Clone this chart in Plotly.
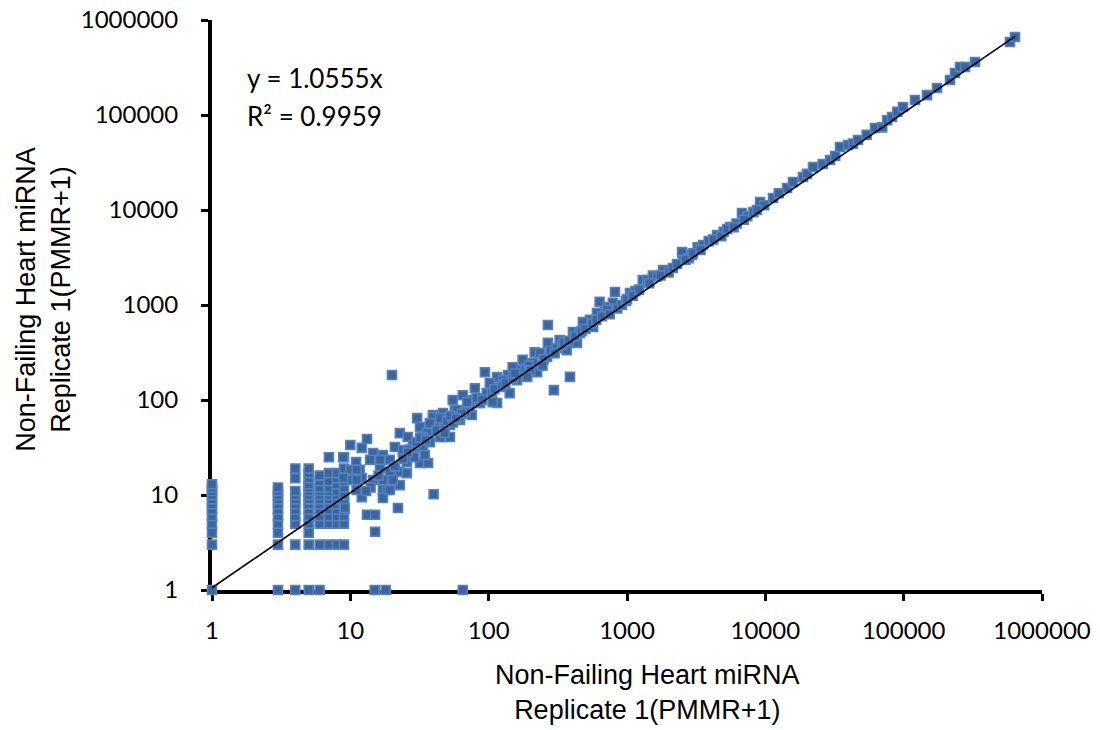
import plotly.graph_objects as go

# Low-count columns: replicate-A value (x) with the replicate-B values (y) stacked above it
column_x = [1, 3, 4, 5, 6, 7, 8, 9]
column_y = [
    [1, 3, 4, 5, 6, 7, 8, 9, 10, 11, 12, 13],
    [1, 3, 4, 5, 6, 7, 8, 9, 10, 11, 12],
    [1, 3, 5, 6, 7, 8, 9, 10, 11, 15, 19],
    [1, 3, 4, 5, 6, 7, 8, 9, 10, 11, 12, 13, 15, 17, 19],
    [1, 3, 5, 6, 7, 8, 9, 10, 11, 12, 14, 16],
    [3, 5, 6, 7, 8, 9, 10, 11, 12, 14, 17, 25],
    [3, 5, 6, 7, 8, 9, 10, 11, 13, 15, 17],
    [3, 5, 6, 7, 8, 9, 10, 12, 14, 16, 19, 25],
]

# miRNAs detected only in the x replicate (y = 1)
floor_x = [15, 18, 65]
floor_y = [1, 1, 1]

# 10 - 100 range
cloud_x = [10, 12.1, 13.2, 8.9, 11, 10, 11.7, 8.9, 10.3, 12.1, 14.6, 9.1, 13.2, 15.1, 15.1,
           22.1, 40, 30.4, 39.6, 46.8, 57, 71, 86.5, 44.6, 52.5, 37.6, 33, 46.8, 52.5, 62,
           75.5, 22.8, 26, 21, 24, 28.4, 33.5, 37.6, 31.9, 36.5, 34.5, 17.2, 19.3, 14.6, 16.4,
           19.3, 22.8, 25.6, 22.8, 17.2, 18.4, 17.2, 12.1, 13.9, 16.4, 17.2, 20.3, 19.3, 28.4,
           25.6, 20, 31.9, 39.6, 35.8, 44.6, 46.8, 55, 65, 59, 73, 79.5, 94, 86.5, 62, 44.6,
           37.6, 33.5, 77, 97, 27, 30, 29, 32, 26, 21, 24, 35, 42, 48, 50, 55, 68, 82, 90, 64,
           70, 53, 58, 48, 11.1, 11.1, 11.1, 14, 16, 13]
cloud_y = [33.6, 31.3, 38.9, 25, 22.2, 18.4, 18.4, 15.1, 14.4, 15.1, 14.4, 7.3, 6.2, 6.2, 4.1,
           7.3, 10.2, 64.5, 69.5, 73, 78.5, 88.6, 93, 54.5, 54.5, 50.6, 50.6, 40.8, 40.8, 61.7,
           69.5, 44.8, 40.8, 32, 29.7, 33.6, 32, 36, 21.7, 21.7, 26.3, 26.3, 23.4, 27.6, 19.2,
           17.5, 17.5, 17, 12.7, 11.3, 11.3, 9.3, 9.5, 23.4, 23.4, 14.4, 14.4, 11.3, 27.6,
           22.2, 183, 52, 66, 45, 40.8, 57, 100, 112, 78.5, 84, 133, 196, 93, 66, 64.5,
           57, 40.8, 100, 118, 30, 36, 25, 40, 28, 20, 24, 38, 48, 50, 60, 58, 75, 105, 100, 72,
           95, 68, 64, 45, 18.4, 14.4, 11.3, 12, 16, 11]

# 100 - 1000 range
mid_x = [115, 115, 138, 142, 120, 102, 176, 168, 215, 224, 209, 268, 268, 296, 326, 387, 367,
         407, 513, 569, 634, 790, 697, 819, 291, 264, 235, 149, 160, 127, 107, 455, 435, 540,
         480, 634, 717, 607, 105, 110, 125, 132, 150, 155, 185, 195, 200, 250, 280, 310, 340,
         350, 380, 420, 470, 500, 560, 600, 660, 750, 850, 920, 980, 190, 245, 300]
mid_y = [174, 93, 183, 118, 137, 151, 265, 207, 317, 196, 245, 399, 615, 127, 427, 175, 335,
         520, 646, 587, 824, 1055, 954, 1370, 312, 284, 312, 221, 162, 162, 95, 508, 399, 698,
         660, 1080, 890, 824, 120, 130, 140, 150, 170, 190, 210, 230, 205, 270, 330, 350, 380,
         405, 420, 470, 530, 560, 640, 700, 760, 800, 920, 1000, 1100, 175, 230, 310]

# 1000 - 10000 range
upper_x = [1051, 1150, 1300, 1396, 1540, 1650, 1822, 2000, 2150, 2500, 2541, 2800, 2940, 3240,
           3545, 3900, 4480, 5000, 5560, 6200, 6780, 7400, 8200, 9160, 9800, 1000, 1100, 1220,
           1450, 1750, 2300, 2650, 3000, 3400, 4200, 4800, 5300, 5900, 7000, 8700]
upper_y = [1337, 1400, 1830, 1834, 2040, 2000, 2335, 2200, 2450, 3600, 2978, 3100, 3370, 4040,
           4283, 4700, 5456, 5900, 6620, 7200, 9300, 8600, 9500, 12140, 11200, 1150, 1250, 1450,
           1700, 2050, 2700, 3000, 3500, 3800, 4900, 5300, 6300, 6600, 7900, 10000]

# 10000 and above
high_x = [11370, 12500, 14360, 15850, 18710, 20000, 22110, 26000, 29370, 32000, 34670, 39620,
          43000, 46760, 54000, 62090, 70000, 76000, 82380, 90000, 98850, 120700, 147500,
          174200, 216300, 235000, 255500, 277700, 327900, 587000, 638000]
high_y = [13370, 15000, 17050, 19720, 22230, 24000, 28370, 30500, 33590, 37000, 46010, 48310,
          50000, 54560, 62000, 72950, 74000, 88000, 95260, 108000, 121400, 143800, 162000,
          192300, 233600, 276800, 320000, 320000, 361300, 586700, 662500]

slope = 1.0555
r_squared = 0.9959

tick_vals = [1, 10, 100, 1000, 10000, 100000, 1000000]
tick_text = ["1", "10", "100", "1000", "10000", "100000", "1000000"]

# assemble all points
xs, ys = [], []
for cx, cys in zip(column_x, column_y):
    xs += [cx] * len(cys)
    ys += cys
for px_, py_ in [(floor_x, floor_y), (cloud_x, cloud_y), (mid_x, mid_y),
                 (upper_x, upper_y), (high_x, high_y)]:
    xs += px_
    ys += py_

x_min, x_max = min(xs), max(xs)

fig = go.Figure()
fig.add_trace(go.Scatter(
    x=xs, y=ys, mode="markers", cliponaxis=False, showlegend=False,
    marker=dict(symbol="square", size=9, color="#3d649c",
                line=dict(color="#5283c0", width=1.6)),
))
fig.add_trace(go.Scatter(
    x=[x_min, x_max], y=[slope * x_min, slope * x_max], mode="lines",
    cliponaxis=False, showlegend=False,
    line=dict(color="black", width=1.6),
))

tick_font = dict(family="Lato", size=24, color="black")
axis_common = dict(
    type="log", range=[0, 6], tickvals=tick_vals, ticktext=tick_text,
    showline=True, linewidth=4, linecolor="black", showgrid=False, zeroline=False,
    ticks="outside", ticklen=7, tickwidth=3, tickcolor="black",
    tickfont=tick_font, layer="below traces", automargin=False,
)

fig.update_layout(
    width=1100, height=730,
    margin=dict(l=212, r=58, t=20, b=140),
    paper_bgcolor="white", plot_bgcolor="white",
    xaxis=dict(**axis_common, ticklabelstandoff=9),
    yaxis=dict(**axis_common, ticklabelstandoff=18),
    annotations=[
        dict(text=f"y = {slope}x", xref="paper", yref="paper", x=0.04, y=0.898,
             xanchor="left", yanchor="middle", showarrow=False,
             font=dict(family="Lato", size=26, color="black")),
        dict(text=f"R² = {r_squared}", xref="paper", yref="paper", x=0.04, y=0.832,
             xanchor="left", yanchor="middle", showarrow=False,
             font=dict(family="Lato", size=26, color="black")),
        dict(text="Non-Failing Heart miRNA<br>Replicate 1(PMMR+1)", xref="paper", yref="paper",
             x=0.525, y=-0.179, xanchor="center", yanchor="middle", showarrow=False,
             font=dict(family="Liberation Sans", size=27, color="black")),
        dict(text="Non-Failing Heart miRNA<br>Replicate 1(PMMR+1)", xref="paper", yref="paper",
             x=-0.203, y=0.51, xanchor="center", yanchor="middle", showarrow=False,
             textangle=-90,
             font=dict(family="Liberation Sans", size=27, color="black")),
    ],
)

fig.write_html("out.html")
